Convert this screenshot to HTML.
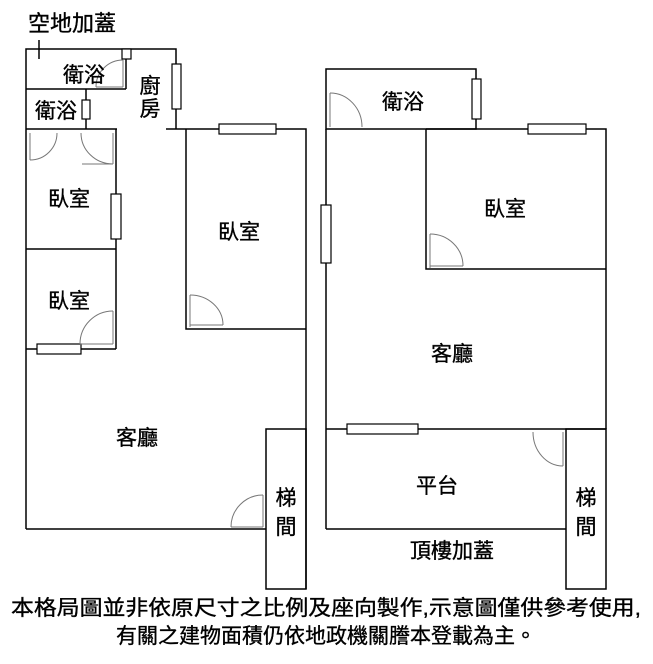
<!DOCTYPE html>
<html><head><meta charset="utf-8"><style>
body{margin:0;background:#fff;width:653px;height:659px;overflow:hidden}
svg text{font-family:"Liberation Sans","Noto Sans CJK TC",sans-serif;fill:#000;stroke:#000;stroke-width:0.35}
</style></head><body>
<svg width="653" height="659" viewBox="0 0 653 659" xmlns="http://www.w3.org/2000/svg">
<g stroke="#000" stroke-width="1.5" fill="none">
<polyline points="26,129 26,49 176,49 176,129"/>
<line x1="126" y1="49" x2="126" y2="89"/>
<line x1="26" y1="89" x2="126" y2="89"/>
<line x1="86" y1="89" x2="86" y2="129"/>
<line x1="26" y1="129" x2="117" y2="129"/>
<line x1="166" y1="129" x2="186" y2="129"/>
<line x1="26" y1="129" x2="26" y2="529"/>
<line x1="116" y1="129" x2="116" y2="349"/>
<line x1="26" y1="249" x2="116" y2="249"/>
<line x1="26" y1="349" x2="116" y2="349"/>
<polyline points="186,129 306,129 306,589"/>
<polyline points="186,129 186,329 306,329"/>
<line x1="26" y1="529" x2="266" y2="529"/>
<rect x="266" y="429" width="40" height="160"/>
<line x1="39" y1="40" x2="39" y2="59"/>
<rect x="326" y="69" width="150" height="60"/>
<line x1="326" y1="129" x2="326" y2="529"/>
<polyline points="426,129 606,129 606,429"/>
<polyline points="426,129 426,269 606,269"/>
<line x1="326" y1="429" x2="606" y2="429"/>
<line x1="326" y1="529" x2="566" y2="529"/>
<rect x="566" y="429" width="40" height="160"/>
</g>
<g stroke="#000" stroke-width="1.2" fill="#fff">
<rect x="122" y="49" width="9" height="10"/>
<rect x="172" y="64" width="9" height="45"/>
<rect x="82" y="100" width="8" height="19"/>
<rect x="219" y="124" width="57" height="10"/>
<rect x="111" y="194" width="10" height="45"/>
<rect x="37" y="344" width="44" height="10"/>
<rect x="472" y="79" width="9" height="40"/>
<rect x="528" y="124" width="58" height="10"/>
<rect x="321" y="205" width="10" height="58"/>
<rect x="347" y="424" width="71" height="10"/>
</g>
<g stroke="#777" stroke-width="1" fill="none">
<path d="M96,87 A27,27 0 0 1 123,60"/><line x1="96" y1="87" x2="123" y2="87"/><line x1="123" y1="60" x2="123" y2="87"/>
<path d="M30,160 A27,27 0 0 0 57,133"/><line x1="30" y1="133" x2="30" y2="160"/>
<path d="M81,133 A32,31 0 0 0 113,164"/><line x1="82" y1="164" x2="113" y2="164"/><line x1="113" y1="133" x2="113" y2="164"/>
<path d="M80,344 A33,33 0 0 1 113,311"/><line x1="80" y1="344" x2="113" y2="344"/><line x1="113" y1="311" x2="113" y2="344"/>
<path d="M190,295 A33,30 0 0 1 223,325"/><line x1="190" y1="325" x2="223" y2="325"/><line x1="190" y1="295" x2="190" y2="327"/>
<path d="M231,527 A32,32 0 0 1 263,495"/><line x1="231" y1="527" x2="263" y2="527"/><line x1="263" y1="495" x2="263" y2="527"/>
<path d="M330,93 A32,34 0 0 1 362,127"/><line x1="330" y1="93" x2="330" y2="127"/>
<path d="M430,234 A33,32 0 0 1 463,266"/><line x1="430" y1="266" x2="463" y2="266"/><line x1="430" y1="234" x2="430" y2="268"/>
<path d="M533,432 A30,34 0 0 0 563,466"/><line x1="563" y1="432" x2="563" y2="466"/>
</g>
<g font-size="21">
<text x="28" y="31" font-size="22">空地加蓋</text>
<text x="84" y="82" text-anchor="middle">衛浴</text>
<text x="56" y="118" text-anchor="middle">衛浴</text>
<text x="150" y="93" text-anchor="middle">廚</text>
<text x="150" y="116" text-anchor="middle">房</text>
<text x="69" y="206" text-anchor="middle">臥室</text>
<text x="69" y="308" text-anchor="middle">臥室</text>
<text x="239" y="239" text-anchor="middle">臥室</text>
<text x="137" y="445" text-anchor="middle">客廳</text>
<text x="286" y="505" text-anchor="middle">梯</text>
<text x="286" y="534" text-anchor="middle">間</text>
<text x="403" y="109" text-anchor="middle">衛浴</text>
<text x="505" y="216" text-anchor="middle">臥室</text>
<text x="452" y="361" text-anchor="middle">客廳</text>
<text x="437" y="493" text-anchor="middle">平台</text>
<text x="586" y="505" text-anchor="middle">梯</text>
<text x="586" y="534" text-anchor="middle">間</text>
<text x="452" y="558" text-anchor="middle">頂樓加蓋</text>
<text x="326" y="615" text-anchor="middle" textLength="630" lengthAdjust="spacingAndGlyphs">本格局圖並非依原尺寸之比例及座向製作,示意圖僅供參考使用,</text>
<text x="326" y="643" text-anchor="middle">有關之建物面積仍依地政機關謄本登載為主。</text>
</g>
</svg>
</body></html>
